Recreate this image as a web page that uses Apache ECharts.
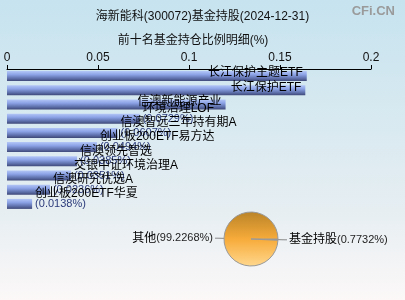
<!DOCTYPE html>
<html>
<head>
<meta charset="utf-8">
<script src="https://cdn.jsdelivr.net/npm/echarts@6/dist/echarts.min.js"></script>
<style>
html,body{margin:0;padding:0;}
#c{width:405px;height:300px;}
</style>
</head>
<body>
<div id="c"></div>
<script>
var titleText = '海新能科(300072)基金持股(2024-12-31)';
var subTitleText = '前十名基金持仓比例明细(%)';
var fundNames = ['长江保护主题ETF','长江保护ETF','信澳新能源产业','环境治理LOF','信澳智远三年持有期A','创业板200ETF易方达','信澳领先智选','交银中证环境治理A','信澳研究优选A','创业板200ETF华夏'];
var fundValues = [0.1647, 0.1639, 0.1201, 0.0729, 0.0607, 0.0494, 0.0385, 0.0351, 0.0236, 0.0138];
var axisTicks = [0, 0.05, 0.1, 0.15, 0.2];
var pieNames = ['基金持股','其他'];
var pieValues = [0.7732, 99.2268];

var FONT = "'Liberation Sans','Noto Sans CJK SC',sans-serif";
var chart = echarts.init(document.getElementById('c'));

var barData = fundValues.map(function(v, i){
  var inside = v > 0.1;
  return {
    value: v,
    label: inside ? {
      position: 'insideRight', distance: 4, offset: [0, -3],
      formatter: '{n|{b}}'
    } : {
      position: 'right', distance: 3, offset: [0, -5],
      formatter: '{n|{b}}\n{p|({c}%)}'
    }
  };
});

var option = {
  backgroundColor: {
    type: 'linear', x: 0, y: 0, x2: 0, y2: 1,
    colorStops: [
      {offset: 0, color: '#c6e3ef'},
      {offset: 0.7, color: '#e6eef2'},
      {offset: 1, color: '#fcf8f8'}
    ]
  },
  animation: false,
  textStyle: {fontFamily: FONT},
  title: [
    {text: titleText, left: 'center', top: 6, textStyle: {fontSize: 12, fontWeight: 'normal', color: '#111', fontFamily: FONT}},
    {text: subTitleText, left: 188, top: 30, textAlign: 'center', textStyle: {fontSize: 12, fontWeight: 'normal', color: '#111', fontFamily: FONT}},
    {text: 'CFi.CN', right: 5, top: 0, textStyle: {fontSize: 13, fontWeight: 'bold', color: '#9a9a9a', fontFamily: FONT}}
  ],
  grid: {left: 7, right: 34, top: 69, height: 142, containLabel: false},
  xAxis: {
    type: 'value', position: 'top', min: axisTicks[0], max: axisTicks[axisTicks.length-1], interval: 0.05,
    axisLine: {show: true, lineStyle: {color: '#000', width: 1}},
    axisTick: {show: true, length: 4, lineStyle: {color: '#000'}},
    splitLine: {show: false},
    axisLabel: {color: '#111', fontSize: 12, margin: 5, fontFamily: FONT,
      formatter: function(v){ return String(+v.toFixed(2)); }}
  },
  yAxis: {
    type: 'category', inverse: true, data: fundNames,
    axisLine: {show: false}, axisTick: {show: false}, axisLabel: {show: false}
  },
  series: [
    {
      type: 'bar', data: barData, barWidth: 10,
      itemStyle: {
        color: {type: 'linear', x: 0, y: 0, x2: 0, y2: 1,
          colorStops: [
            {offset: 0, color: '#b3c6f7'},
            {offset: 0.35, color: '#8ca3e6'},
            {offset: 0.7, color: '#6274b0'},
            {offset: 1, color: '#3e4878'}
          ]}
      },
      label: {
        show: true, fontFamily: FONT,
        rich: {
          n: {fontSize: 12, color: '#000', lineHeight: 10, fontFamily: FONT},
          p: {fontSize: 11, color: '#2b3a7a', lineHeight: 10, fontFamily: FONT}
        }
      }
    },
    {
      type: 'pie', center: [251, 239], radius: [0, 27], startAngle: 0, clockwise: true,
      avoidLabelOverlap: false,
      data: pieNames.map(function(n, i){
        return {
          name: n, value: pieValues[i],
          itemStyle: i === 0 ? {color: '#8a8a8a'} : {
            color: {type: 'linear', x: 0, y: 0, x2: 0, y2: 1,
              colorStops: [
                {offset: 0, color: '#b98328'},
                {offset: 0.5, color: '#f7ab3a'},
                {offset: 1, color: '#ffd88e'}
              ]}
          }
        };
      }),
      itemStyle: {borderColor: '#999', borderWidth: 1},
      label: {
        show: true, fontFamily: FONT, distanceToLabelLine: 2,
        formatter: '{n|{b}}{p|({c}%)}',
        rich: {
          n: {fontSize: 12, color: '#000', fontFamily: FONT},
          p: {fontSize: 11, color: '#222', fontFamily: FONT}
        }
      },
      labelLine: {show: true, length: 6, length2: 3, lineStyle: {color: '#888', width: 1}}
    }
  ]
};
chart.setOption(option);
</script>
</body>
</html>
